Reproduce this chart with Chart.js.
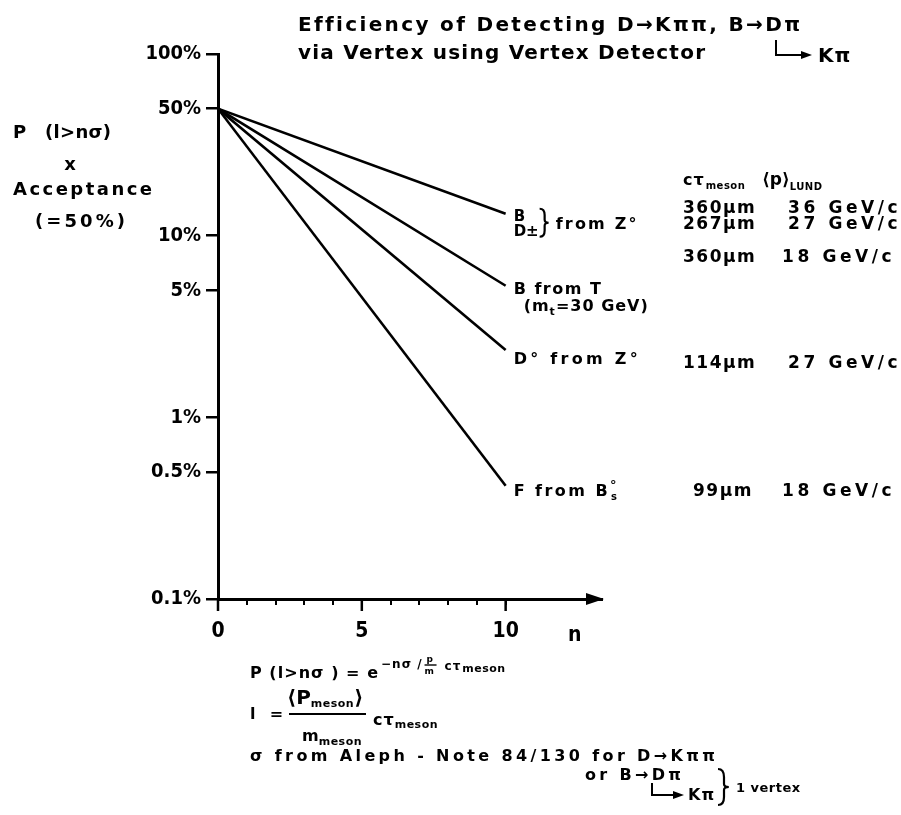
<!DOCTYPE html>
<html>
<head>
<meta charset="utf-8">
<script src="https://cdn.jsdelivr.net/npm/chart.js@4.4.1/dist/chart.umd.min.js"></script>
<style>
  html, body { margin: 0; padding: 0; background: #fff; }
  #wrap { width: 901px; height: 815px; position: relative; }
</style>
</head>
<body>
<div id="wrap"><canvas id="c" width="901" height="815"></canvas></div>
<script>
// ---- data ----
const nValues = [0, 10];
const seriesNames = ['B / D\u00b1 from Z\u00b0', 'B from T', 'D\u00b0 from Z\u00b0', 'F from B\u00b0s'];
const bdFromZ = [50, 13.2];
const bFromT = [50, 5.3];
const d0FromZ = [50, 2.35];
const fFromBs = [50, 0.42];
const yTickValues = [0.1, 0.5, 1, 5, 10, 50, 100];
const yTickLabels = ['0.1%', '0.5%', '1%', '5%', '10%', '50%', '100%'];
const xTickValues = [0, 1, 2, 3, 4, 5, 6, 7, 8, 9, 10];
const xTickLabels = ['0', '', '', '', '', '5', '', '', '', '', '10'];
const xMajorTicks = [0, 5, 10];
const ctauMeson = ['360\u00b5m', '267\u00b5m', '360\u00b5m', '114\u00b5m', '99\u00b5m'];
const pLund = ['36 GeV/c', '27 GeV/c', '18 GeV/c', '27 GeV/c', '18 GeV/c'];

const FAM = '"DejaVu Sans", sans-serif';
const CFAM = '"DejaVu Sans Condensed", "DejaVu Sans", sans-serif';

function toPts(ys) { return nValues.map((x, i) => ({ x: x, y: ys[i] })); }

function txt(ctx, s, x, y, size, ls, opts) {
  opts = opts || {};
  ctx.font = (opts.weight || 'bold') + ' ' + size + 'px ' + (opts.fam || FAM);
  ctx.letterSpacing = (ls || 0) + 'px';
  ctx.textAlign = opts.align || 'left';
  ctx.textBaseline = 'alphabetic';
  ctx.fillText(s, x, y);
  const w = ctx.measureText(s).width;
  ctx.letterSpacing = '0px';
  return x + w;
}
function fit(ctx, s, x, y, size, width) {
  ctx.font = 'bold ' + size + 'px ' + FAM;
  ctx.letterSpacing = '0px';
  const w = ctx.measureText(s).width;
  const n = [...s].length;
  let ls = n > 1 ? (width - w) / (n - 1) : 0;
  if (ls < 0.3) ls = 0.3;
  return txt(ctx, s, x, y, size, ls);
}
function brace(ctx, x, y0, y1, w) {
  const ym = (y0 + y1) / 2;
  ctx.beginPath();
  ctx.moveTo(x, y0);
  ctx.quadraticCurveTo(x + w, y0, x + w, y0 + (ym - y0) * 0.45);
  ctx.lineTo(x + w, ym - 3);
  ctx.quadraticCurveTo(x + w, ym, x + w * 1.8, ym);
  ctx.quadraticCurveTo(x + w, ym, x + w, ym + 3);
  ctx.lineTo(x + w, y1 - (y1 - ym) * 0.45);
  ctx.quadraticCurveTo(x + w, y1, x, y1);
  ctx.stroke();
}
function lArrow(ctx, x, y0, y1, len) {
  // L-shaped arrow: down then right with filled head
  ctx.lineWidth = 2;
  ctx.beginPath(); ctx.moveTo(x, y0); ctx.lineTo(x, y1); ctx.lineTo(x + len - 8, y1); ctx.stroke();
  ctx.beginPath(); ctx.moveTo(x + len, y1); ctx.lineTo(x + len - 11, y1 - 4); ctx.lineTo(x + len - 11, y1 + 4); ctx.closePath(); ctx.fill();
}

const annotations = {
  id: 'annotations',
  afterDraw(chart) {
    const ctx = chart.ctx;
    const xs = chart.scales.x, ys = chart.scales.y;
    const area = chart.chartArea;
    ctx.save();
    ctx.fillStyle = '#000';
    ctx.strokeStyle = '#000';

    // major ticks on x axis (longer)
    ctx.lineWidth = 2.5;
    xMajorTicks.forEach(v => {
      const px = xs.getPixelForValue(v);
      ctx.beginPath(); ctx.moveTo(px, area.bottom); ctx.lineTo(px, area.bottom + 12); ctx.stroke();
    });
    // arrow head on x axis
    const ay = area.bottom;
    ctx.beginPath();
    ctx.moveTo(area.right + 2, ay);
    ctx.lineTo(area.right - 16, ay - 6);
    ctx.lineTo(area.right - 16, ay + 6);
    ctx.closePath(); ctx.fill();
    // "n" axis title
    txt(ctx, 'n', xs.getPixelForValue(12.4), 641, 21, 0, { fam: CFAM, align: 'center' });

    // title
    fit(ctx, 'Efficiency of Detecting D\u2192K\u03c0\u03c0, B\u2192D\u03c0', 298, 31, 20, 500);
    fit(ctx, 'via Vertex using Vertex Detector', 298, 59, 20, 407);
    lArrow(ctx, 776, 40, 55, 36);
    txt(ctx, 'K\u03c0', 818, 62, 20, 1);

    // y axis title
    txt(ctx, 'P', 13, 138, 18, 0);
    fit(ctx, '(l>n\u03c3)', 45, 138, 18, 65);
    txt(ctx, 'x', 70, 170, 18, 0, { align: 'center' });
    fit(ctx, 'Acceptance', 13, 195, 18, 139);
    fit(ctx, '(=50%)', 35, 227, 18, 90);

    // series labels at line ends
    const lx = xs.getPixelForValue(10) + 8;
    const y1 = ys.getPixelForValue(bdFromZ[1]);
    txt(ctx, 'B', lx, y1 + 7, 15, 0);
    txt(ctx, 'D\u00b1', lx, y1 + 22, 15, 0);
    ctx.lineWidth = 2.2;
    brace(ctx, lx + 26, y1 - 5, y1 + 23, 5);
    txt(ctx, 'from Z\u00b0', lx + 42, y1 + 15, 16, 2.2);

    const y2 = ys.getPixelForValue(bFromT[1]);
    txt(ctx, 'B from T', lx, y2 + 8, 16, 1.5);
    let e = txt(ctx, '(m', lx + 10, y2 + 25, 16, 1);
    e = txt(ctx, 't', e, y2 + 29, 11, 0);
    txt(ctx, '=30 GeV)', e + 1, y2 + 25, 16, 1);

    const y3 = ys.getPixelForValue(d0FromZ[1]);
    fit(ctx, 'D\u00b0 from Z\u00b0', lx, y3 + 14, 16, 124);

    const y4 = ys.getPixelForValue(fFromBs[1]);
    e = fit(ctx, 'F from B', lx, y4 + 10, 16, 94);
    txt(ctx, '\u00b0', e, y4 + 3, 13, 0);
    txt(ctx, 's', e + 1, y4 + 14, 10, 0);

    // table columns
    const c1 = 683, c2 = 788;
    e = txt(ctx, 'c\u03c4', c1, 185, 16, 1);
    txt(ctx, 'meson', e + 1, 189, 10, 0.5);
    e = txt(ctx, '\u27e8p\u27e9', c2 - 26, 185, 17, 0);
    txt(ctx, 'LUND', e, 190, 10, 0.5);
    const rowsY = [213, 229, 262, 368, 496];
    rowsY.forEach((ry, i) => {
      const c1x = ctauMeson[i].length < 5 ? c1 + 10 : c1;
      txt(ctx, ctauMeson[i], c1x, ry, 17, 1.5);
      const c2x = pLund[i].startsWith('18') ? c2 - 6 : c2;
      txt(ctx, pLund[i], c2x, ry, 17, 3.6);
    });

    // formulas below
    e = fit(ctx, 'P (l>n\u03c3 ) = e', 250, 678, 16, 128);
    e = txt(ctx, '\u2212n\u03c3 /', e + 2, 668, 12, 1);
    txt(ctx, 'p', e + 4, 662, 9, 0);
    ctx.lineWidth = 1.4;
    ctx.beginPath(); ctx.moveTo(e + 2, 665); ctx.lineTo(e + 14, 665); ctx.stroke();
    txt(ctx, 'm', e + 2, 674, 9, 0);
    e = txt(ctx, 'c\u03c4', e + 22, 670, 12, 1);
    txt(ctx, 'meson', e + 1, 672, 11, 0.5);

    txt(ctx, 'l  =', 250, 719, 16, 1);
    e = txt(ctx, '\u27e8P', 287, 704, 20, 0);
    e = txt(ctx, 'meson', e, 707, 11, 0.5);
    txt(ctx, '\u27e9', e, 704, 20, 0);
    ctx.lineWidth = 1.8;
    ctx.beginPath(); ctx.moveTo(289, 714); ctx.lineTo(366, 714); ctx.stroke();
    e = txt(ctx, 'm', 302, 741, 16, 0);
    txt(ctx, 'meson', e, 745, 11, 0.5);
    e = txt(ctx, 'c\u03c4', 373, 725, 16, 1);
    txt(ctx, 'meson', e, 728, 11, 0.5);

    fit(ctx, '\u03c3 from Aleph - Note 84/130 for D\u2192K\u03c0\u03c0', 250, 761, 16, 465);
    fit(ctx, 'or B\u2192D\u03c0', 585, 780, 16, 96);
    lArrow(ctx, 652, 783, 795, 32);
    txt(ctx, 'K\u03c0', 688, 800, 16, 1);
    ctx.lineWidth = 2.2;
    brace(ctx, 718, 769, 805, 6);
    txt(ctx, '1 vertex', 736, 792, 13, 0.5);

    ctx.restore();
  }
};

const lineStyle = { borderColor: '#000', borderWidth: 2.6, pointRadius: 0, fill: false, tension: 0 };

new Chart(document.getElementById('c'), {
  type: 'line',
  data: {
    datasets: [
      Object.assign({ label: seriesNames[0], data: toPts(bdFromZ) }, lineStyle),
      Object.assign({ label: seriesNames[1], data: toPts(bFromT) }, lineStyle),
      Object.assign({ label: seriesNames[2], data: toPts(d0FromZ) }, lineStyle),
      Object.assign({ label: seriesNames[3], data: toPts(fFromBs) }, lineStyle)
    ]
  },
  options: {
    responsive: false,
    animation: false,
    devicePixelRatio: 1,
    layout: { padding: { top: 54, right: 299, bottom: 0, left: 0 } },
    plugins: { legend: { display: false }, tooltip: { enabled: false }, title: { display: false } },
    scales: {
      x: {
        type: 'linear', min: 0, max: 13.35,
        afterBuildTicks: s => { s.ticks = xTickValues.map(v => ({ value: v })); },
        afterFit: s => { s.height = 815 - 599; },
        ticks: {
          autoSkip: false, maxRotation: 0, color: '#000', padding: 14,
          font: { family: CFAM, size: 21, weight: 'bold' },
          callback: (v, i) => xTickLabels[i]
        },
        grid: { drawOnChartArea: false, drawTicks: true, tickLength: 6, color: '#000', lineWidth: 2 },
        border: { color: '#000', width: 3 }
      },
      y: {
        type: 'logarithmic', min: 0.1, max: 100,
        afterBuildTicks: s => { s.ticks = yTickValues.map(v => ({ value: v })); },
        afterFit: s => { s.width = 218; },
        ticks: {
          autoSkip: false, color: '#000', padding: 5,
          font: { family: CFAM, size: 20, weight: 'bold' },
          callback: (v, i) => yTickLabels[i]
        },
        grid: { drawOnChartArea: false, drawTicks: true, tickLength: 12, color: '#000', lineWidth: 2.5 },
        border: { color: '#000', width: 3 }
      }
    }
  },
  plugins: [annotations]
});
</script>
</body>
</html>
